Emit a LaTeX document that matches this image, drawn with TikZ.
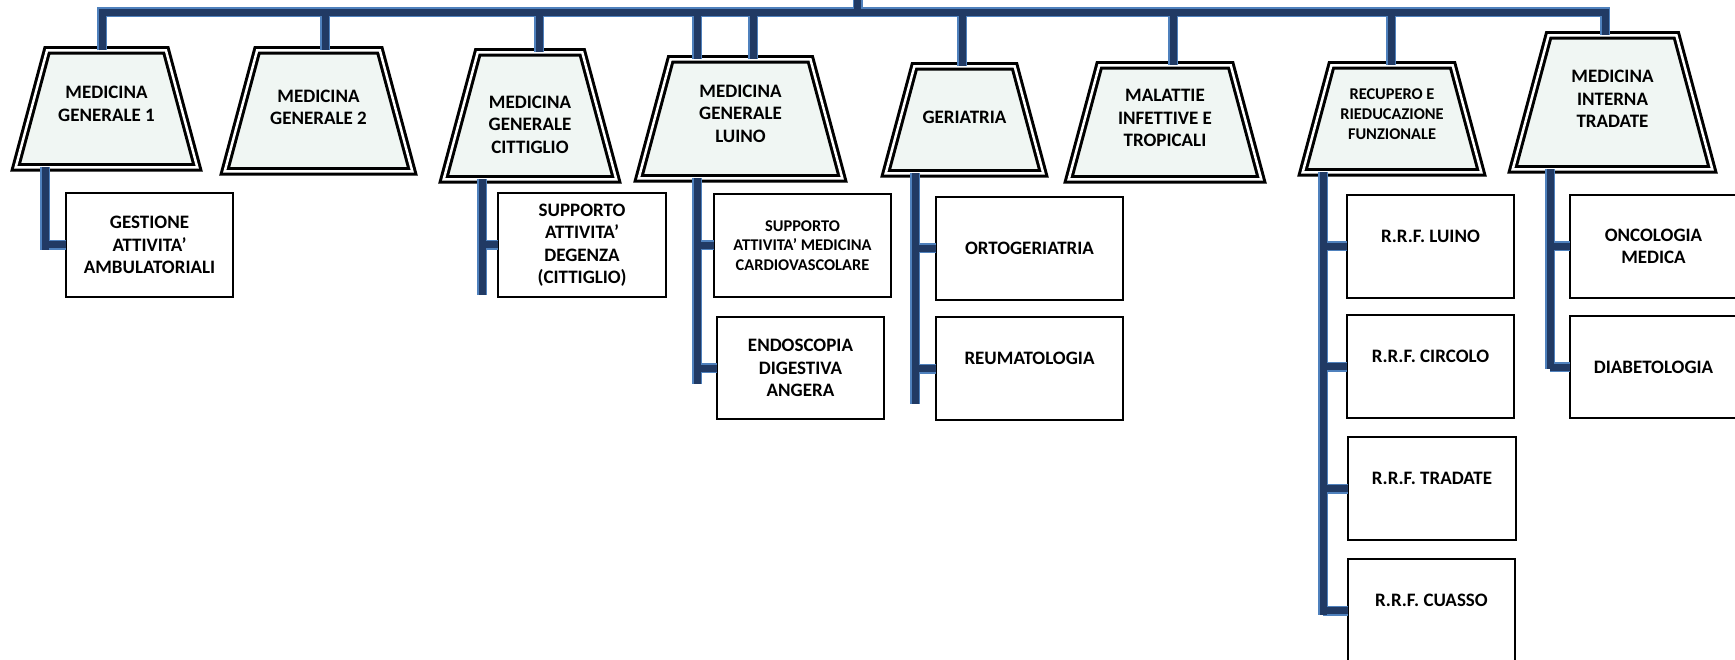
\documentclass[tikz,border=0pt]{standalone}
\usepackage{fontspec}
\setmainfont{Carlito}
\usetikzlibrary{calc,backgrounds}

\definecolor{barnavy}{RGB}{33,58,100}
\definecolor{barlight}{RGB}{79,129,189}
\definecolor{trapfill}{RGB}{240,246,243}

\begin{document}
\begin{tikzpicture}[x=1pt, y=-1pt,
    bar/.style={draw=barnavy, line width=7pt, preaction={draw=barlight, line width=10pt}},
    uoc/.style={rectangle, inner sep=0pt, outer sep=0pt},
    uoctext/.style={align=center, inner sep=0pt, font=\bfseries\fontsize{19}{22.5}\selectfont},
    trapline/.style={draw, line width=3pt, double=white, double distance=2.5pt, fill=trapfill},
    uos/.style={rectangle, draw, line width=2pt, fill=white, minimum width=167pt,
      minimum height=103pt, inner sep=2pt, outer sep=0pt, align=center,
      font=\bfseries\fontsize{19}{22.5}\selectfont},
    small/.style={font=\bfseries\fontsize{16.4}{19.8}\selectfont},
    textup/.style={text depth=21pt}]
    \useasboundingbox (0,0) rectangle (1735,660);

    % strutture complesse
    \node[uoc, minimum width=181.7pt, minimum height=117pt,
      label={[uoctext, yshift=5pt]center:MEDICINA\\GENERALE 1}] (mg1) at (106.5,109) {};
    \node[uoc, minimum width=187.7pt, minimum height=121pt,
      label={[uoctext, yshift=3.5pt]center:MEDICINA\\GENERALE 2}] (mg2) at (318.5,111) {};
    \node[uoc, minimum width=172.7pt, minimum height=127pt,
      label={[uoctext, yshift=-8.5pt]center:MEDICINA\\GENERALE\\CITTIGLIO}] (mgcit) at (530,116) {};
    \node[uoc, minimum width=203.7pt, minimum height=119pt,
      label={[uoctext, yshift=5.5pt]center:MEDICINA\\GENERALE\\LUINO}] (mgluino) at (740.5,119) {};
    \node[uoc, minimum width=157.7pt, minimum height=107pt,
      label={[uoctext, yshift=3pt]center:GERIATRIA}] (ger) at (964.5,120) {};
    \node[uoc, minimum width=192.7pt, minimum height=114pt,
      label={[uoctext, yshift=4.5pt]center:MALATTIE\\INFETTIVE E\\TROPICALI}] (malinf) at (1165,122.5) {};
    \node[uoc, minimum width=178.7pt, minimum height=107pt,
      label={[uoctext, small, yshift=5pt]center:RECUPERO E\\RIEDUCAZIONE\\FUNZIONALE}] (rrf) at (1392,119) {};
    \node[uoc, minimum width=199.7pt, minimum height=134pt,
      label={[uoctext, yshift=3.5pt]center:MEDICINA\\INTERNA\\TRADATE}] (mit) at (1612.5,102.5) {};

    \begin{scope}[on background layer]
      \foreach \u in {mg1,mg2,mgcit,mgluino,ger,malinf,rrf,mit}
        \draw[trapline] let \p1=(\u.south west), \p2=(\u.north east) in
          (\x1,\y1) -- (\x2,\y1) -- ({\x2-0.268*(\y2-\y1)},\y2) -- ({\x1+0.268*(\y2-\y1)},\y2) -- cycle;
    \end{scope}

    % strutture semplici
    \node[uos, minimum height=104pt] (gest) at (149.5,245) {GESTIONE\\ATTIVITA’\\AMBULATORIALI};
    \node[uos, minimum width=168pt, minimum height=104pt] (suppdeg) at (582,245) {SUPPORTO\\ATTIVITA’\\DEGENZA\\(CITTIGLIO)};
    \node[uos, small, minimum width=177pt] (suppcard) at (802.5,245.5) {SUPPORTO\\ATTIVITA’ MEDICINA\\CARDIOVASCOLARE};
    \node[uos, minimum height=102pt] (endo) at (800.5,368) {ENDOSCOPIA\\DIGESTIVA\\ANGERA};
    \node[uos, minimum width=187pt] (orto) at (1029.5,248.5) {ORTOGERIATRIA};
    \node[uos, textup, minimum width=187pt] (reuma) at (1029.5,368.5) {REUMATOLOGIA};
    \node[uos, textup] (rrfluino) at (1430.5,246.5) {R.R.F. LUINO};
    \node[uos, textup] (rrfcircolo) at (1430.5,366.5) {R.R.F. CIRCOLO};
    \node[uos, textup, minimum width=168pt] (rrftradate) at (1432,488.5) {R.R.F. TRADATE};
    \node[uos, textup] (rrfcuasso) at (1431.5,610.5) {R.R.F. CUASSO};
    \node[uos] (onco) at (1653.5,246.5) {ONCOLOGIA\\MEDICA};
    \node[uos, minimum height=102pt] (diabeto) at (1653.5,367) {DIABETOLOGIA};

    \coordinate (top) at (857.5,0);
    \coordinate (bl) at (102,12.5);
    \coordinate (br) at (1605,12.5);
    \coordinate (e1) at (45,250);
    \coordinate (e3) at (482,295);
    \coordinate (e4) at (697,384);
    \coordinate (e5) at (915,404);
    \coordinate (e7) at (1323,615);
    \coordinate (e8) at (1550,369);

    \draw[bar] (mg1.north -| bl) -- (bl) -- (br) -- (mit.north -| br)
        (top) -- (top |- bl)
        (325,12.5) -- (325,12.5 |- mg2.north)
        (539,12.5) -- (539,12.5 |- mgcit.north)
        (697,12.5) -- (697,12.5 |- mgluino.north)
        (753,12.5) -- (753,12.5 |- mgluino.north)
        (962,12.5) -- (962,12.5 |- ger.north)
        (1173,12.5) -- (1173,12.5 |- malinf.north)
        (1391,12.5) -- (1391,12.5 |- rrf.north);

    \draw[bar] (e1 |- mg1.south) -- (e1) (e1 |- gest.west) -- (gest.west);
    \draw[bar] (e3 |- mgcit.south) -- (e3) (e3 |- suppdeg.west) -- (suppdeg.west);
    \draw[bar] (e4 |- mgluino.south) -- (e4) (e4 |- suppcard.west) -- (suppcard.west)
        (e4 |- endo.west) -- (endo.west);
    \draw[bar] (e5 |- ger.south) -- (e5) (e5 |- orto.west) -- (orto.west)
        (e5 |- reuma.west) -- (reuma.west);
    \draw[bar] (e7 |- rrf.south) -- (e7) (e7 |- rrfluino.west) -- (rrfluino.west)
        (e7 |- rrfcircolo.west) -- (rrfcircolo.west)
        (e7 |- rrftradate.west) -- (rrftradate.west)
        (e7 |- rrfcuasso.west) -- (rrfcuasso.west);
    \draw[bar] (e8 |- mit.south) -- (e8) (e8 |- onco.west) -- (onco.west)
        (e8 |- diabeto.west) -- (diabeto.west);
\end{tikzpicture}
\end{document}
